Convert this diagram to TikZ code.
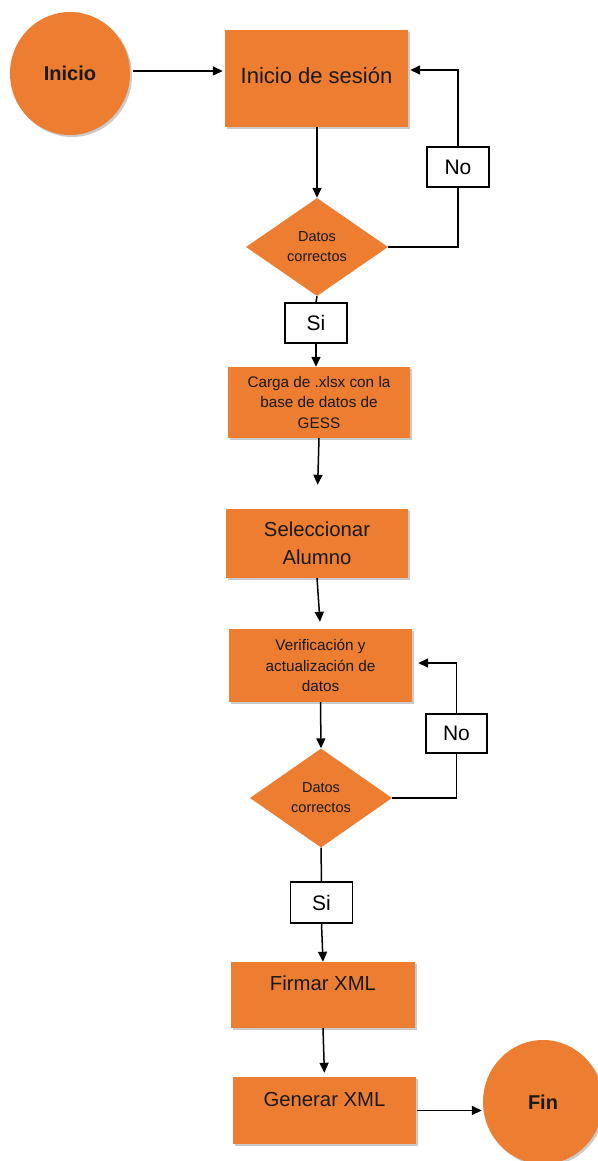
\documentclass[tikz,border=0pt]{standalone}
\usepackage{fontspec}
\setmainfont{Liberation Sans}
\usepackage{tikz}
\usetikzlibrary{shapes.geometric, arrows.meta, shadows}

\definecolor{naranja}{HTML}{ED7D31}

\tikzset{
  sombra/.style={drop shadow={shadow xshift=2pt, shadow yshift=-2pt, opacity=0.35, fill=black!60}},
  terminal/.style={ellipse, fill=naranja, sombra, inner sep=0pt, minimum width=120pt, minimum height=123pt, text=black!90, font=\bfseries\fontsize{20}{24}\selectfont},
  proceso/.style={rectangle, fill=naranja, sombra, inner sep=0pt, align=center, text=black!90, font=\fontsize{20.3}{28}\selectfont},
  texto chico/.style={font=\fontsize{15.3}{20.5}\selectfont},
  decision/.style={diamond, fill=naranja, inner sep=0pt, aspect=1.45, minimum width=142pt, minimum height=98pt, align=center, text=black!90, font=\fontsize{14.5}{20}\selectfont},
  respuesta/.style={rectangle, draw, line width=1.3pt, fill=white, minimum width=62pt, minimum height=40pt, font=\fontsize{21}{25}\selectfont},
  linea/.style={line width=1.5pt},
  flecha/.style={linea, -{Triangle[length=10pt, width=9pt]}}
}

\begin{document}
\begin{tikzpicture}[x=1pt, y=-1pt]
  \useasboundingbox (0,0) rectangle (597,1161);

  % inicio y primer ciclo
  \node[terminal] (inicio) at (70,73.5) {Inicio};
  \node[proceso, minimum width=183pt, minimum height=97pt, font=\fontsize{22}{26}\selectfont] (sesion) at (316.5,78.5) {Inicio de sesión\\[-20pt]\mbox{}};
  \node[decision] (datos1) at (317,247) {Datos\\correctos};
  \node[respuesta] (no1) at (458,167) {No};
  \node[respuesta] (si1) at (316,323) {Si};

  \node[proceso, texto chico, minimum width=182pt, minimum height=71pt] (carga) at (319,402.5) {Carga de .xlsx con la\\base de datos de\\GESS};
  \node[proceso, minimum width=182pt, minimum height=69pt] (alumno) at (317,543.5) {Seleccionar\\Alumno};

  % segundo ciclo
  \node[proceso, texto chico, minimum width=183pt, minimum height=73pt] (verif) at (320.5,665.5) {Verificación y\\actualización de\\datos};
  \node[decision, minimum height=99pt] (datos2) at (321,798) {Datos\\correctos};
  \node[respuesta, minimum width=61pt, minimum height=39pt] (no2) at (456.5,733.5) {No};
  \node[respuesta, minimum height=41pt] (si2) at (321.5,902.5) {Si};

  % final
  \node[proceso, minimum width=184pt, minimum height=66pt, font=\fontsize{20.3}{24}\selectfont] (firmar) at (323,995) {Firmar XML\\[-1pt]\mbox{}};
  \node[proceso, minimum width=183pt, minimum height=67pt, font=\fontsize{20.3}{24}\selectfont] (generar) at (324.5,1110.5) {Generar XML\\[-1pt]\mbox{}};
  \node[terminal, minimum height=124pt] (fin) at (543,1102) {Fin};

  % conectores
  \draw[flecha, shorten <=3pt, shorten >=2pt] ([yshift=2.5pt]inicio.east) -- ([yshift=7.5pt]sesion.west);
  \draw[flecha] (sesion.south -| datos1.north) -- (datos1.north);
  \draw[linea] (datos1.east) -| (no1.south);
  \draw[flecha, shorten >=2pt] (no1.north) |- ([yshift=8.5pt]sesion.east);
  \draw[linea] (datos1.south) -- (si1.north);
  \draw[flecha] (si1.south) -- (carga.north -| si1.south);
  \draw[flecha, shorten >=24pt] (carga.south) -- (alumno.north);
  \draw[flecha, shorten >=7pt] (alumno.south) -- (verif.north);
  \draw[flecha] (verif.south) -- (datos2.north);
  \draw[linea] (datos2.east) -| (no2.south);
  \draw[flecha, shorten >=6pt] (no2.north) |- ([yshift=2.5pt]verif.east);
  \draw[linea] (datos2.south) -- (si2.north);
  \draw[flecha] (si2.south) -- (firmar.north);
  \draw[flecha, shorten >=4pt] (firmar.south) -- (generar.north);
  \draw[flecha, shorten <=1pt, shorten >=1pt] (generar.east) -- (fin.west |- generar.east);
\end{tikzpicture}
\end{document}
